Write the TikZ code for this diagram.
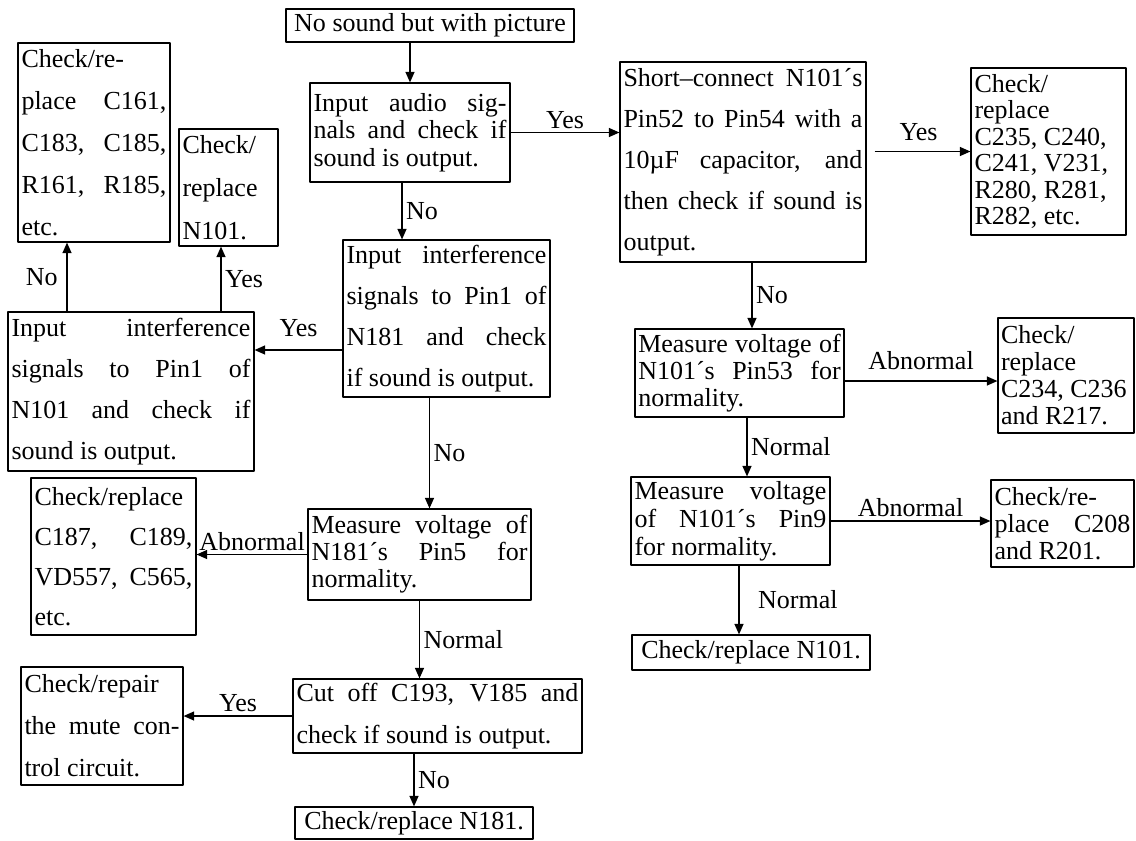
\documentclass[tikz,border=0pt]{standalone}
\usepackage{fontspec}
\setmainfont{Liberation Serif}
\usetikzlibrary{arrows.meta}
\setlength{\parindent}{0pt}
% one justified line of a box
\newcommand{\jl}[1]{\makebox[\hsize][s]{\spaceskip=0pt\xspaceskip=0pt\relax #1}\\}

\begin{document}
\begin{tikzpicture}[x=0.02cm, y=-0.02cm, line join=round, >={Triangle[length=0.21cm,width=0.18cm]},
	blk/.style={draw, line width=0.7pt, inner xsep=0.06cm, inner ysep=0pt, align=left,
		execute at begin node={\spaceskip=0pt\xspaceskip=0pt\relax}},
	lsp/.style={font=\fontsize{14.8}{#1}\selectfont},
	lbl/.style={font=\fontsize{14.8}{16}\selectfont, inner sep=2pt},
	con/.style={->, line width=0.7pt}]
	\useasboundingbox (0,0) rectangle (1136,840);
	% middle column
	\node[blk, minimum width=5.76cm, minimum height=0.66cm, lsp=16, align=center] (start) at (430,25.5) {No sound but with picture};
	\node[blk, minimum width=4cm, minimum height=1.98cm, text width=3.86cm, lsp=15.6] (audio) at (410,132.5) {\jl{Input audio sig-}\jl{nals and check if}sound is output.};
	\node[blk, minimum width=4.14cm, minimum height=3.14cm, text width=4cm, lsp=23.3] (n181i) at (446.5,318.5) {\jl{Input interference}\jl{signals to Pin1 of}\jl{N181 and check}if sound is output.};
	\node[blk, minimum width=4.46cm, minimum height=1.82cm, text width=4.32cm, lsp=15.4] (meas5) at (419.5,554.5) {\jl{Measure voltage of}\jl{N181´s Pin5 for}normality.};
	\node[blk, minimum width=5.78cm, minimum height=1.48cm, text width=5.64cm, lsp=23.9] (cut) at (437.5,716) {\jl{Cut off C193, V185 and}check if sound is output.};
	\node[blk, minimum width=4.76cm, minimum height=0.64cm, lsp=16, align=center] (n181r) at (414,823) {Check/replace N181.};
	% left column
	\node[blk, minimum width=3.04cm, minimum height=3.98cm, text width=2.9cm, lsp=23.9] (c161) at (94,142.5) {Check/re-\\\jl{place C161,}\jl{C183, C185,}\jl{R161, R185,}etc.};
	\node[blk, minimum width=1.98cm, minimum height=2.34cm, text width=1.84cm, lsp=24.5] (n101) at (228.5,187.5) {Check/\\replace\\N101.};
	\node[blk, minimum width=4.92cm, minimum height=3.18cm, text width=4.78cm, lsp=23.3] (left) at (131,391.5) {\jl{Input interference}\jl{signals to Pin1 of}\jl{N101 and check if}sound is output.};
	\node[blk, minimum width=3.3cm, minimum height=3.14cm, text width=3.16cm, lsp=22.8] (c187) at (113.5,556.5) {\jl{Check/replace}\jl{C187, C189,}\jl{VD557, C565,}etc.};
	\node[blk, minimum width=3.24cm, minimum height=2.36cm, text width=3.1cm, lsp=23.9] (repair) at (102,726) {\jl{Check/repair}\jl{the mute con-}trol circuit.};
	% right part
	\node[blk, minimum width=4.92cm, minimum height=4cm, text width=4.78cm, lsp=23.3] (short) at (743,162) {\jl{Short--connect N101´s}\jl{Pin52 to Pin54 with a}\jl{10µF capacitor, and}\jl{then check if sound is}output.};
	\node[blk, minimum width=3.1cm, minimum height=3.34cm, text width=2.96cm, lsp=15.1] (cb) at (1048.5,151.5) {Check/\\replace\\C235, C240,\\C241, V231,\\R280, R281,\\R282, etc.};
	\node[blk, minimum width=4.18cm, minimum height=1.76cm, text width=4.05cm, lsp=15.4] (meas53) at (739.5,373) {\jl{Measure voltage of}\jl{N101´s Pin53 for}normality.};
	\node[blk, minimum width=2.72cm, minimum height=2.3cm, text width=2.6cm, lsp=15.4] (c234) at (1066,375.5) {Check/\\replace\\C234, C236\\and R217.};
	\node[blk, minimum width=3.98cm, minimum height=1.76cm, text width=3.84cm, lsp=15.9] (meas9) at (730.5,521) {\jl{Measure voltage}\jl{of N101´s Pin9}for normality.};
	\node[blk, minimum width=2.86cm, minimum height=1.74cm, text width=2.72cm, lsp=15.4] (c208) at (1062.5,523.5) {Check/re-\\\jl{place C208}and R201.};
	\node[blk, minimum width=4.76cm, minimum height=0.7cm, lsp=16, align=center] (n101r) at (751,652.5) {Check/replace N101.};
	% connectors
	\draw[con] (start.south -| audio.north) -- (audio.north);
	\draw[con] (audio.east) -- (audio.east -| short.west) node[lbl, midway, above] (l1) {Yes};
	\draw[con, shorten <=0.16cm] (cb.west -| short.east) -- (cb.west) node[lbl, midway, above=4pt] (l2) {Yes};
	\draw[con] ([xshift=-0.16cm]audio.south) -- ([xshift=-0.16cm]audio.south |- n181i.north) node[lbl, midway, right] (l3) {No};
	\draw[con] ([yshift=-0.63cm]n181i.west) -- ([yshift=-0.63cm]n181i.west -| left.east) node[lbl, midway, above=5pt] (l4) {Yes};
	\draw[con] ([xshift=-0.54cm]c161.south |- left.north) -- ([xshift=-0.54cm]c161.south) node[lbl, midway, left=3pt] (l5) {No};
	\draw[con] ([xshift=-0.15cm]n101.south |- left.north) -- ([xshift=-0.15cm]n101.south) node[lbl, midway, right] (l6) {Yes};
	\draw[con] ([xshift=0.2cm]meas5.north |- n181i.south) -- ([xshift=0.2cm]meas5.north) node[lbl, midway, right] (l7) {No};
	\draw[con] (meas5.west) -- (meas5.west -| c187.east) node[lbl, midway, above] (l8) {Abnormal};
	\draw[con] (meas5.south) -- (meas5.south |- cut.north) node[lbl, midway, right] (l9) {Normal};
	\draw[con] (cut.west) -- (cut.west -| repair.east) node[lbl, midway, above] (l10) {Yes};
	\draw[con] (n181r.north |- cut.south) -- (n181r.north) node[lbl, midway, right] (l11) {No};
	\draw[con] ([xshift=0.18cm]short.south) -- ([xshift=0.18cm]short.south |- meas53.north) node[lbl, midway, right] (l12) {No};
	\draw[con] ([yshift=-0.16cm]meas53.east) -- ([yshift=-0.16cm]meas53.east -| c234.west) node[lbl, midway, above=4pt] (l13) {Abnormal};
	\draw[con] ([xshift=0.15cm]meas53.south) -- ([xshift=0.15cm]meas53.south |- meas9.north) node[lbl, midway, right] (l14) {Normal};
	\draw[con] (meas9.east) -- (meas9.east -| c208.west) node[lbl, midway, above] (l15) {Abnormal};
	\draw[con] ([xshift=0.17cm]meas9.south) -- ([xshift=0.17cm]meas9.south |- n101r.north) node[lbl, midway, right=0.3cm] (l16) {Normal};
\end{tikzpicture}
\end{document}
